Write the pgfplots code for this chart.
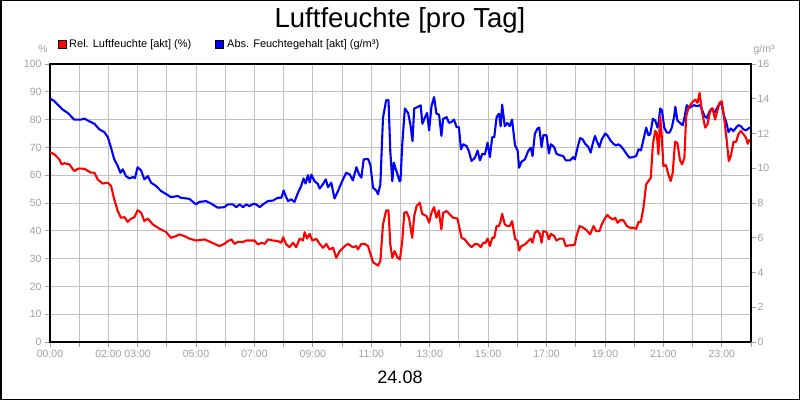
\documentclass[border=0pt]{standalone}
\usepackage{fontspec}
\setmainfont{Liberation Sans}
\usepackage{pgfplots}
\pgfplotsset{compat=1.18}

\definecolor{tickgray}{RGB}{160,160,160}
\definecolor{gridgray}{RGB}{192,192,192}
\definecolor{relred}{RGB}{255,0,0}
\definecolor{absblue}{RGB}{0,0,255}

% gemeinsame Einstellungen der drei uebereinanderliegenden Achsen
\pgfplotsset{
  base/.style={
    at={(50pt,58pt)}, anchor=south west,
    scale only axis, width=701pt, height=278pt,
    xmin=0, xmax=24,
    tick align=outside, major tick length=5pt,
    tick style={tickgray, line width=0.8pt},
    ticklabel style={font=\fontsize{10.5}{12}\selectfont, text=tickgray},
    /pgf/number format/assume math mode=true,
    clip=true,
  },
}

\begin{document}
\begin{tikzpicture}[x=1pt,y=1pt]
\useasboundingbox (0,0) rectangle (800,400);

% --- Achse links: Gitter, Zeitachse, Prozent ---
\begin{axis}[base,
    ymin=0, ymax=100,
    xtick={0,1,...,24},
    xticklabels={00:00,,02:00,03:00,,05:00,,07:00,,09:00,,11:00,,13:00,,15:00,,17:00,,19:00,,21:00,,23:00,},
    ytick={0,10,...,100},
    xtick pos=bottom, ytick pos=left,
    grid=major,
    major grid style={gridgray, line width=0.9pt},
    axis line style={black, line width=1.4pt},
  ]
  \addplot[draw=none] coordinates {(0,0)};
\end{axis}

% --- Achse rechts: Abs. Feuchtegehalt (g/m3) ---
\begin{axis}[base,
    ymin=0, ymax=16,
    ytick={0,2,...,16},
    axis x line=none,
    axis y line*=right,
    axis line style={black, line width=1.4pt},
    yticklabel style={anchor=west, xshift=-2pt},
  ]
  \addplot[absblue, line width=2.1pt, line join=round] coordinates {
    (0.00,14.02) (0.15,13.86) (0.32,13.57) (0.43,13.38) (0.61,13.18)
    (0.72,12.99) (0.83,12.80) (0.98,12.80) (1.06,12.80) (1.18,12.85)
    (1.35,12.70) (1.52,12.56) (1.69,12.24) (1.86,12.08) (1.98,11.79)
    (2.09,11.18) (2.20,10.51) (2.32,10.13) (2.41,9.74) (2.49,9.94)
    (2.60,9.55) (2.72,9.41) (2.83,9.49) (2.91,9.44) (3.00,10.06)
    (3.12,9.87) (3.23,9.36) (3.35,9.55) (3.46,9.17) (3.63,8.98)
    (3.80,8.69) (3.99,8.50) (4.14,8.34) (4.37,8.40) (4.49,8.30)
    (4.77,8.24) (5.00,7.92) (5.11,8.06) (5.34,8.11) (5.51,7.97)
    (5.74,7.73) (5.97,7.76) (6.09,7.92) (6.26,7.92) (6.38,7.76)
    (6.49,7.92) (6.61,7.76) (6.72,7.92) (6.83,7.82) (6.95,7.95)
    (7.06,7.92) (7.18,7.76) (7.29,7.92) (7.46,8.11) (7.63,8.14)
    (7.80,8.30) (7.92,8.30) (8.00,8.72) (8.07,8.40) (8.15,8.11)
    (8.26,8.21) (8.37,8.06) (8.49,8.59) (8.60,8.98) (8.68,9.41)
    (8.75,9.12) (8.83,9.60) (8.89,9.18) (8.95,9.63) (9.06,9.25)
    (9.17,9.10) (9.23,8.83) (9.35,9.10) (9.44,9.36) (9.52,8.91)
    (9.63,9.17) (9.74,8.26) (9.86,8.69) (10.03,9.36) (10.14,9.74)
    (10.26,9.65) (10.37,9.30) (10.49,10.06) (10.58,9.65) (10.66,9.46)
    (10.74,10.51) (10.89,10.54) (10.97,10.18) (11.06,8.88) (11.17,8.72)
    (11.23,8.50) (11.31,9.07) (11.40,12.90) (11.51,13.92) (11.59,13.92)
    (11.65,10.99) (11.72,9.25) (11.77,10.32) (11.86,9.84) (11.97,9.25)
    (12.00,9.30) (12.06,11.38) (12.15,13.44) (12.26,13.18) (12.34,12.51)
    (12.41,11.57) (12.47,13.44) (12.58,13.52) (12.69,13.62) (12.75,12.56)
    (12.83,12.90) (12.91,13.18) (12.98,12.18) (13.06,13.57) (13.15,14.10)
    (13.23,13.14) (13.32,13.09) (13.40,11.86) (13.46,12.85) (13.58,12.94)
    (13.66,12.61) (13.75,12.67) (13.83,12.80) (13.92,12.37) (14.00,12.37)
    (14.07,11.09) (14.15,11.38) (14.26,11.28) (14.34,10.99) (14.43,10.42)
    (14.55,10.61) (14.64,11.02) (14.72,10.45) (14.80,10.83) (14.89,10.80)
    (14.98,11.47) (15.06,10.64) (15.14,11.79) (15.21,11.79) (15.29,12.94)
    (15.37,13.14) (15.43,12.42) (15.48,13.66) (15.57,12.42) (15.66,12.61)
    (15.74,12.42) (15.82,12.80) (15.92,11.33) (16.01,11.02) (16.06,10.03)
    (16.14,10.37) (16.26,10.51) (16.37,10.99) (16.46,11.18) (16.52,10.70)
    (16.60,11.98) (16.69,12.29) (16.75,12.34) (16.83,11.22) (16.89,11.90)
    (17.00,11.90) (17.08,10.85) (17.15,11.38) (17.26,11.22) (17.34,10.83)
    (17.46,10.75) (17.57,10.70) (17.66,10.45) (17.80,10.45) (17.91,10.64)
    (17.97,10.51) (18.06,11.18) (18.15,11.73) (18.24,11.66) (18.32,11.41)
    (18.43,11.22) (18.51,10.90) (18.58,11.41) (18.66,11.86) (18.72,11.57)
    (18.81,11.22) (18.89,11.66) (19.01,12.00) (19.08,11.90) (19.20,11.57)
    (19.29,11.41) (19.38,11.31) (19.46,11.38) (19.54,11.28) (19.63,11.09)
    (19.75,10.80) (19.84,10.61) (19.95,10.64) (20.07,10.70) (20.15,11.09)
    (20.23,11.02) (20.32,11.66) (20.41,12.34) (20.49,11.90) (20.55,11.95)
    (20.64,12.85) (20.72,12.75) (20.80,12.34) (20.84,12.67) (20.89,13.44)
    (20.95,13.33) (21.03,12.34) (21.12,12.05) (21.21,12.05) (21.29,12.34)
    (21.37,12.99) (21.41,13.54) (21.48,12.75) (21.57,12.61) (21.66,12.48)
    (21.72,12.90) (21.80,13.63) (21.89,13.47) (21.97,13.57) (22.05,13.63)
    (22.14,13.57) (22.26,13.63) (22.32,13.38) (22.41,12.99) (22.49,12.90)
    (22.58,13.28) (22.66,13.44) (22.74,13.18) (22.83,13.44) (22.94,13.76)
    (23.00,13.66) (23.08,12.99) (23.15,12.67) (23.23,12.08) (23.31,12.29)
    (23.40,12.14) (23.49,12.34) (23.57,12.48) (23.65,12.42) (23.74,12.24)
    (23.83,12.18) (23.91,12.29) (23.97,12.34)
  };
\end{axis}

% --- Rel. Luftfeuchte (%) obenauf ---
\begin{axis}[base, ymin=0, ymax=100, hide axis]
  \addplot[relred, line width=2.1pt, line join=round] coordinates {
    (0.00,68.3) (0.15,67.5) (0.32,65.7) (0.40,63.9) (0.49,64.3)
    (0.66,63.9) (0.83,61.5) (0.98,62.4) (1.18,62.3) (1.40,60.9)
    (1.52,60.9) (1.63,58.5) (1.80,57.0) (1.98,57.3) (2.09,56.1)
    (2.20,51.3) (2.32,47.1) (2.43,44.7) (2.55,44.9) (2.66,43.2)
    (2.77,44.3) (2.89,44.9) (3.00,47.4) (3.12,46.5) (3.23,43.5)
    (3.35,44.4) (3.52,42.3) (3.74,40.8) (3.97,39.6) (4.14,37.5)
    (4.32,38.1) (4.43,38.7) (4.60,38.1) (4.77,37.2) (5.00,36.5)
    (5.29,36.9) (5.51,35.9) (5.80,34.5) (5.97,35.3) (6.09,36.3)
    (6.21,36.9) (6.32,35.3) (6.43,36.0) (6.61,36.0) (6.72,36.5)
    (6.89,36.5) (7.00,36.5) (7.12,35.1) (7.24,35.7) (7.35,35.3)
    (7.46,36.9) (7.63,36.5) (7.80,36.3) (7.92,35.7) (7.98,37.7)
    (8.09,35.1) (8.20,34.1) (8.32,35.7) (8.43,34.1) (8.55,37.2)
    (8.66,36.5) (8.72,39.5) (8.80,37.2) (8.89,38.9) (8.98,36.5)
    (9.12,37.1) (9.23,35.3) (9.35,33.9) (9.46,35.3) (9.57,33.3)
    (9.69,33.9) (9.80,30.3) (9.92,32.7) (10.09,34.5) (10.20,35.3)
    (10.37,34.1) (10.49,34.5) (10.54,33.3) (10.66,35.3) (10.77,35.3)
    (10.89,34.5) (10.94,32.7) (11.06,28.7) (11.23,27.5) (11.31,29.1)
    (11.40,42.3) (11.51,47.3) (11.59,47.3) (11.65,35.1) (11.72,30.3)
    (11.80,32.7) (11.89,30.5) (11.98,29.7) (12.06,36.3) (12.13,46.5)
    (12.21,46.8) (12.29,44.7) (12.40,37.5) (12.47,45.3) (12.55,48.9)
    (12.66,50.1) (12.74,46.1) (12.89,45.3) (12.98,42.9) (13.06,46.5)
    (13.15,48.5) (13.23,44.7) (13.31,47.3) (13.40,40.5) (13.46,46.5)
    (13.58,47.1) (13.69,45.9) (13.80,44.7) (13.95,44.4) (14.09,37.5)
    (14.20,36.9) (14.32,35.3) (14.43,34.1) (14.55,35.3) (14.66,35.1)
    (14.75,34.1) (14.83,35.7) (14.91,35.7) (14.98,37.2) (15.06,34.5)
    (15.14,37.5) (15.21,37.5) (15.29,41.7) (15.37,41.7) (15.43,43.5)
    (15.48,46.1) (15.57,42.3) (15.66,41.7) (15.74,41.7) (15.82,43.5)
    (15.92,37.2) (16.01,36.3) (16.06,32.9) (16.14,34.5) (16.26,35.1)
    (16.37,36.3) (16.46,37.2) (16.52,35.7) (16.60,39.3) (16.69,40.1)
    (16.77,38.9) (16.83,35.7) (16.89,39.9) (17.00,39.6) (17.08,36.9)
    (17.15,38.9) (17.26,38.1) (17.34,36.5) (17.46,37.2) (17.57,37.2)
    (17.66,34.5) (17.80,34.8) (17.91,34.8) (17.97,35.1) (18.01,37.5)
    (18.13,41.7) (18.26,41.1) (18.38,40.1) (18.49,38.7) (18.61,41.7)
    (18.70,39.9) (18.81,39.9) (18.89,42.3) (19.01,44.7) (19.08,45.7)
    (19.18,44.7) (19.27,44.1) (19.35,44.7) (19.43,42.9) (19.52,43.8)
    (19.63,43.8) (19.75,41.7) (19.86,41.1) (19.97,41.1) (20.07,40.7)
    (20.15,43.2) (20.23,43.2) (20.32,48.5) (20.41,56.7) (20.49,57.9)
    (20.57,59.1) (20.64,71.1) (20.72,75.9) (20.77,75.3) (20.83,67.5)
    (20.89,81.2) (20.94,74.7) (21.00,63.3) (21.09,63.6) (21.17,60.3)
    (21.25,57.9) (21.32,60.9) (21.40,72.0) (21.48,71.6) (21.57,65.3)
    (21.64,63.9) (21.72,66.3) (21.78,81.2) (21.86,84.2) (21.97,86.0)
    (22.09,87.2) (22.17,86.0) (22.24,89.6) (22.32,83.0) (22.43,77.1)
    (22.51,78.3) (22.60,83.0) (22.69,84.0) (22.77,80.0) (22.85,83.3)
    (22.92,86.0) (23.00,86.6) (23.08,80.6) (23.17,72.3) (23.24,65.1)
    (23.31,66.9) (23.40,72.0) (23.49,72.0) (23.57,74.8) (23.65,75.9)
    (23.74,74.8) (23.83,73.4) (23.89,71.3) (23.95,72.9)
  };
\end{axis}

% Titel, Legende, Einheiten, Datum
\node[anchor=base, font=\fontsize{27.5}{30}\selectfont] at (400,372.4) {Luftfeuchte [pro Tag]};

\filldraw[fill=relred, draw=black, line width=0.6pt] (58,352) rectangle (66,360);
\node[anchor=base west, inner sep=0pt, font=\fontsize{11}{12}\selectfont] at (69,352.5) {Rel. Luftfeuchte [akt] (\%)};
\filldraw[fill=absblue, draw=black, line width=0.6pt] (215,352) rectangle (223,360);
\node[anchor=base west, inner sep=0pt, font=\fontsize{11}{12}\selectfont] at (227,352.5) {Abs. Feuchtegehalt [akt] (g/m³)};

\node[font=\fontsize{10.5}{12}\selectfont, text=tickgray] at (43,351) {\%};
\node[font=\fontsize{10.5}{12}\selectfont, text=tickgray] at (764,350) {g/m³};

\node[anchor=base, font=\fontsize{18}{20}\selectfont] at (400,17) {24.08};

\draw[black, line width=1.5pt] (0.75,0.75) rectangle (799.25,399.25);
\end{tikzpicture}
\end{document}
